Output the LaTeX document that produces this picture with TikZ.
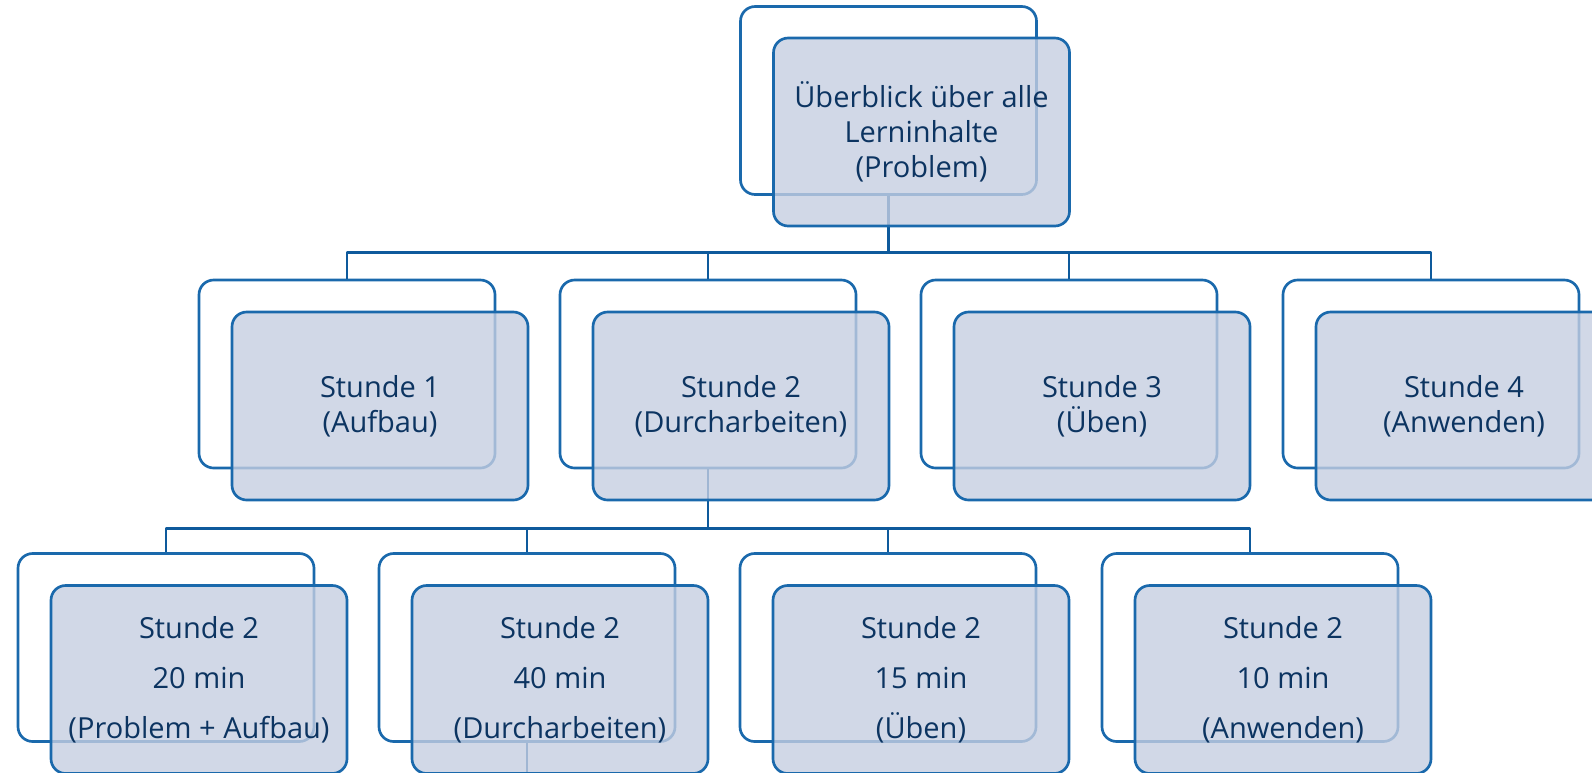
\documentclass[tikz,border=0pt]{standalone}
\usepackage{fontspec}
\setmainfont{Open Sans}
\definecolor{boxline}{RGB}{26,105,172}
\definecolor{boxfill}{RGB}{197,206,225}
\definecolor{linkline}{RGB}{14,90,156}
\definecolor{textblue}{RGB}{12,52,97}
\tikzset{
  backbox/.style={draw=boxline, line width=2pt, rounded corners=11pt, minimum width=222pt, minimum height=141pt, inner sep=0pt},
  frontbox/.style={backbox, fill=boxfill, fill opacity=0.8, text opacity=1, text=textblue, align=center, font=\fontsize{21.75}{26.25}\selectfont},
  widebox/.style={frontbox, font=\fontsize{21.75}{37.5}\selectfont},
  link/.style={draw=linkline, line width=2.2pt},
}
\begin{document}
\begin{tikzpicture}[x=0.75pt, y=-0.75pt, line join=round]
			\useasboundingbox (0,0) rectangle (1592,772);
			\clip (0,0) rectangle (1592,772);

			% back boxes
			\node[backbox] (top-b) at (888.5,100.5) {};
			\foreach \n/\x in {s1/347,s2/708,s3/1069,s4/1431}
			\node[backbox] (\n-b) at (\x,374) {};
			\foreach \n/\x in {m1/166,m2/527,m3/888,m4/1250}
			\node[backbox] (\n-b) at (\x,647.5) {};

			% connectors
			\foreach \c in {s1,s2,s3,s4}
			\draw[link] (top-b.south) -- ++(0,57) -| (\c-b.north);
			\foreach \c in {m1,m2,m3,m4}
			\draw[link] (s2-b.south) -- ++(0,59) -| (\c-b.north);
			\coordinate (m2-end) at (527,800);
			\draw[link] (m2-b.south) -- (m2-end);

			% front boxes
			\node[frontbox] (top-f) at ([shift={(33,31.5)}]top-b.center) {Überblick über alle\\Lerninhalte\\(Problem)};
			\foreach \n/\t in {s1/{Stunde 1\\(Aufbau)},s2/{Stunde 2\\(Durcharbeiten)},s3/{Stunde 3\\(Üben)},s4/{Stunde 4\\(Anwenden)}}
			\node[frontbox] (\n-f) at ([shift={(33,32)}]\n-b.center) {\t};
			\foreach \n/\t in {m1/{Stunde 2\\20 min\\(Problem + Aufbau)},m2/{Stunde 2\\40 min\\(Durcharbeiten)},m3/{Stunde 2\\15 min\\(Üben)},m4/{Stunde 2\\10 min\\(Anwenden)}}
			\node[widebox] (\n-f) at ([shift={(33,32)}]\n-b.center) {\t};
		\end{tikzpicture}
\end{document}
